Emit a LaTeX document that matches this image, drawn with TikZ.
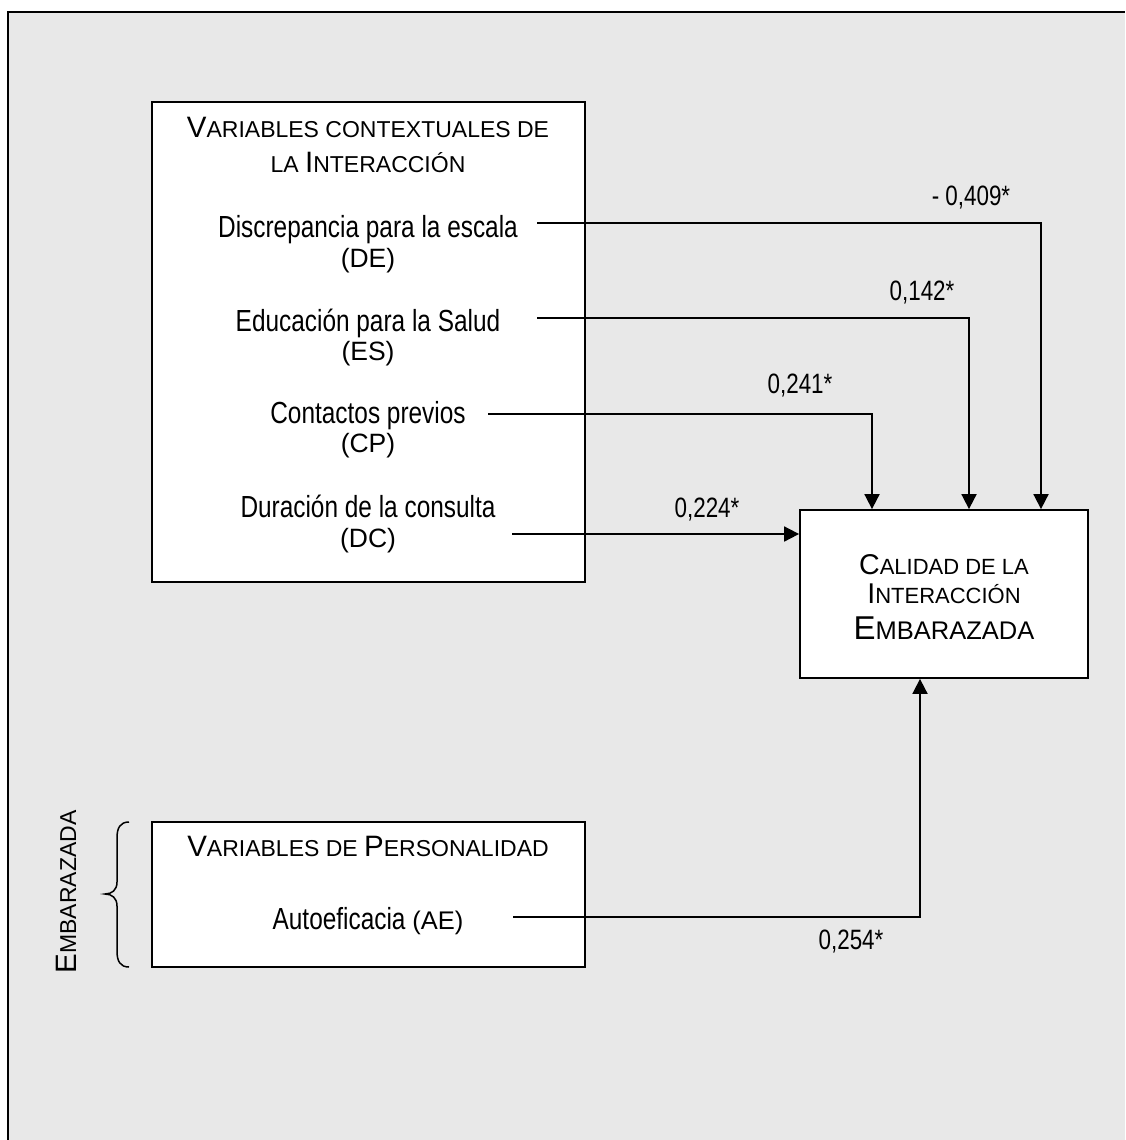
\documentclass[tikz,border=0pt]{standalone}
\usepackage{fontspec}
\setmainfont{Liberation Sans}[FakeStretch=0.8]
\newfontfamily\scfont{Liberation Sans}
\usetikzlibrary{arrows.meta}
\definecolor{panel}{HTML}{E8E8E8}
% larger initial letter for the small-caps headings
\newcommand\inl[1]{{\fontsize{29.5}{30}\selectfont #1}}

\begin{document}
\begin{tikzpicture}[x=1pt,y=-1pt,
  box/.style={draw, fill=white, line width=1.8pt, inner sep=0pt},
  wire/.style={line width=1.8pt},
  arr/.style={wire, -{Triangle[width=15pt,length=15pt]}},
  main/.style={font=\fontsize{30.5}{32}\selectfont, anchor=base, inner sep=0pt},
  abbr/.style={font=\scfont\fontsize{26.5}{28}\selectfont, anchor=base, inner sep=0pt},
  head/.style={font=\scfont\fontsize{23}{26}\selectfont, anchor=base, inner sep=0pt},
  coef/.style={font=\fontsize{28}{30}\selectfont, inner sep=0pt}]
\useasboundingbox (0,0) rectangle (1125,1140);
\fill[white] (0,0) rectangle (1125,1140);
\fill[panel] (8,12) rectangle (1125,1140);
\draw[line width=2pt] (8,1140) -- (8,12) -- (1125,12);

% boxes
\node[box, minimum width=433pt, minimum height=480pt] (ctx) at (368.5,342) {};
\node[box, minimum width=433pt, minimum height=145pt] (per) at (368.5,894.5) {};
\node[box, minimum width=288pt, minimum height=168pt] (cal) at (944,594) {};

% contextual variables
\node[head] (h1) at (368,137) {\inl{V}ARIABLES CONTEXTUALES DE};
\node[head] (h2) at (368,172) {LA \inl{I}NTERACCIÓN};
\node[main] (de) at (368,237) {Discrepancia para la escala};
\node[abbr] (deA) at (368,267) {(DE)};
\node[main] (es) at (368,331) {Educación para la Salud};
\node[abbr] (esA) at (368,360) {(ES)};
\node[main] (cp) at (368,423) {Contactos previos};
\node[abbr] (cpA) at (368,452) {(CP)};
\node[main] (dc) at (368,517) {Duración de la consulta};
\node[abbr] (dcA) at (368,547) {(DC)};

% outcome
\node[head, font=\scfont\fontsize{22}{26}\selectfont] (c1) at (944,574)
  {{\fontsize{28.6}{30}\selectfont C}ALIDAD DE LA};
\node[head, font=\scfont\fontsize{22}{26}\selectfont] (c2) at (944,603)
  {{\fontsize{28.6}{30}\selectfont I}NTERACCIÓN};
\node[head, font=\scfont\fontsize{25.5}{28}\selectfont] (c3) at (944,639)
  {{\fontsize{33}{34}\selectfont E}MBARAZADA};

% personality
\node[head] (p1) at (368,856) {\inl{V}ARIABLES DE \inl{P}ERSONALIDAD};
\node[main] (ae) at (368,929) {Autoeficacia {\scfont\fontsize{25.5}{28}\selectfont (AE)}};

% side brace and label
\draw[line width=1.5pt] (129,822) .. controls (120,822) and (117,828) .. (117,838)
  -- (117,882) .. controls (117,890) and (112,894) .. (105,894)
  .. controls (112,894) and (117,898) .. (117,906)
  -- (117,951) .. controls (117,961) and (120,967) .. (129,967);
\node[head, rotate=90, anchor=center] (emb) at (66,892) {\inl{E}MBARAZADA};

% connector anchors
\coordinate (deS) at (537,223);  \coordinate (deX) at (1041,0);
\coordinate (esS) at (537,318);  \coordinate (esX) at (969,0);
\coordinate (cpS) at (488,414);  \coordinate (cpX) at (872,0);
\coordinate (dcS) at (512,534);
\coordinate (aeS) at (513,917);  \coordinate (aeX) at (920,0);

\draw[arr] (deS) -| (cal.north -| deX);
\draw[arr] (esS) -| (cal.north -| esX);
\draw[arr] (cpS) -| (cal.north -| cpX);
\draw[arr] (dcS) -- (cal.west |- dcS);
\draw[arr] (aeS) -| (cal.south -| aeX);

% path coefficients
\node[coef] (k1) at (971,198) {- 0,409*};
\node[coef] (k2) at (922,293) {0,142*};
\node[coef] (k3) at (800,386) {0,241*};
\node[coef] (k4) at (707,510) {0,224*};
\node[coef] (k5) at (851,942) {0,254*};
\end{tikzpicture}
\end{document}
